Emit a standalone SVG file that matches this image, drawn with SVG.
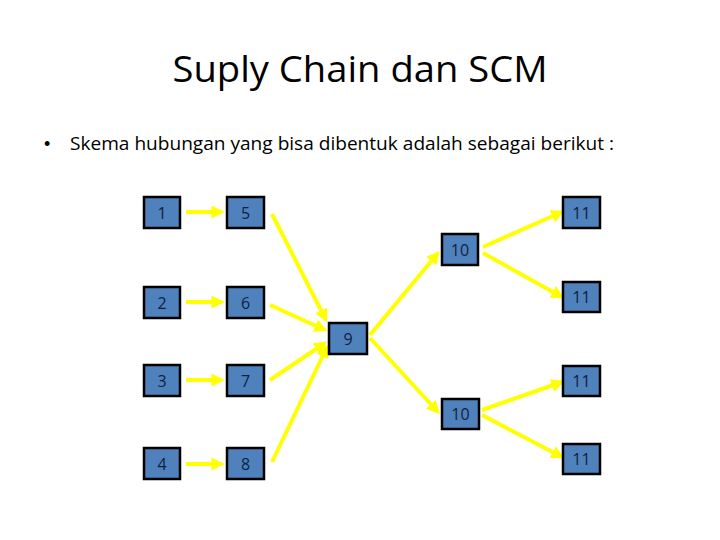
<svg xmlns="http://www.w3.org/2000/svg" width="720" height="540" viewBox="0 0 720 540">
<defs>
<marker id="ah" viewBox="0 0 10 10" refX="8" refY="5" markerWidth="3.3" markerHeight="3.3" orient="auto" markerUnits="strokeWidth">
<path d="M0,0 L10,5 L0,10 z" fill="#FFFF00"/>
</marker>
<style>
.box{fill:#4F81BD;stroke:#000;stroke-width:2.5}
.lbl{font-family:"Open Sans","Liberation Sans",sans-serif;font-size:16px;fill:#0F1F3F;text-anchor:middle;dominant-baseline:central}
.ar{stroke:#FFFF00;stroke-width:4;fill:none;marker-end:url(#ah)}
</style>
</defs>
<rect width="720" height="540" fill="#fff"/>
<text x="360" y="82" font-family="Open Sans, Liberation Sans, sans-serif" font-size="36" text-anchor="middle" fill="#000" textLength="375" lengthAdjust="spacingAndGlyphs">Suply Chain dan SCM</text>
<text x="44" y="150" font-family="Liberation Sans, sans-serif" font-size="18" fill="#000">•</text>
<text x="70" y="150" font-family="Open Sans, Liberation Sans, sans-serif" font-size="18" fill="#000" textLength="544" lengthAdjust="spacingAndGlyphs">Skema hubungan yang bisa dibentuk adalah sebagai berikut :</text>
<g id="connectors">
<line class="ar" x1="186" y1="212" x2="222" y2="212"/>
<line class="ar" x1="186" y1="302" x2="222" y2="302"/>
<line class="ar" x1="186" y1="380" x2="222" y2="380"/>
<line class="ar" x1="186" y1="464" x2="222" y2="464"/>
<line class="ar" x1="272" y1="214" x2="326" y2="320"/>
<line class="ar" x1="270" y1="305" x2="325" y2="330"/>
<line class="ar" x1="270" y1="380" x2="325" y2="343"/>
<line class="ar" x1="272" y1="462" x2="327" y2="347"/>
<line class="ar" x1="370" y1="335" x2="438" y2="253"/>
<line class="ar" x1="370" y1="338" x2="438" y2="412"/>
<line class="ar" x1="483" y1="247" x2="562" y2="212"/>
<line class="ar" x1="483" y1="253" x2="562" y2="297"/>
<line class="ar" x1="482" y1="410" x2="562" y2="382"/>
<line class="ar" x1="482" y1="415" x2="562" y2="457"/>
</g>
<g id="n1"><rect class="box" x="144" y="197" width="36" height="31"/><text class="lbl" x="162" y="212.5">1</text></g>
<g id="n5"><rect class="box" x="227" y="197" width="37" height="31"/><text class="lbl" x="245.5" y="212.5">5</text></g>
<g id="n2"><rect class="box" x="144" y="287" width="36" height="31"/><text class="lbl" x="162" y="302.5">2</text></g>
<g id="n6"><rect class="box" x="227" y="287" width="37" height="31"/><text class="lbl" x="245.5" y="302.5">6</text></g>
<g id="n3"><rect class="box" x="144" y="365" width="36" height="31"/><text class="lbl" x="162" y="380.5">3</text></g>
<g id="n7"><rect class="box" x="227" y="365" width="37" height="31"/><text class="lbl" x="245.5" y="380.5">7</text></g>
<g id="n4"><rect class="box" x="144" y="448" width="36" height="31"/><text class="lbl" x="162" y="463.5">4</text></g>
<g id="n8"><rect class="box" x="227" y="448" width="37" height="31"/><text class="lbl" x="245.5" y="463.5">8</text></g>
<g id="n9"><rect class="box" x="329" y="323" width="38" height="31"/><text class="lbl" x="348" y="338.5">9</text></g>
<g id="n10a"><rect class="box" x="442" y="234" width="36" height="31"/><text class="lbl" x="460" y="249.5">10</text></g>
<g id="n10b"><rect class="box" x="442" y="399" width="37" height="30"/><text class="lbl" x="460.5" y="414">10</text></g>
<g id="n11a"><rect class="box" x="563" y="197" width="37" height="31"/><text class="lbl" x="581.5" y="212.5">11</text></g>
<g id="n11b"><rect class="box" x="563" y="282" width="37" height="30"/><text class="lbl" x="581.5" y="297">11</text></g>
<g id="n11c"><rect class="box" x="563" y="366" width="37" height="30"/><text class="lbl" x="581.5" y="381">11</text></g>
<g id="n11d"><rect class="box" x="563" y="444" width="37" height="30"/><text class="lbl" x="581.5" y="459">11</text></g>
</svg>
